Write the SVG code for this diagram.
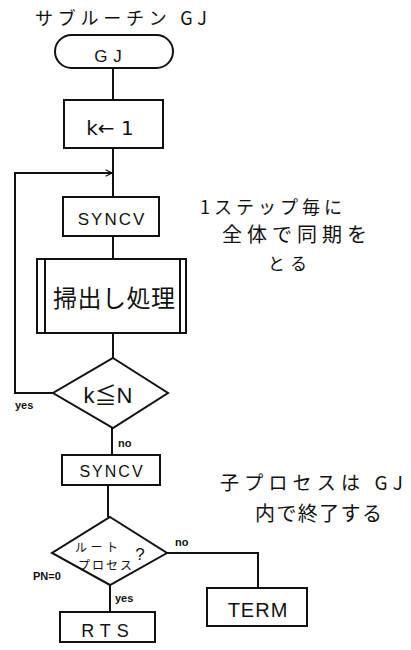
<svg xmlns="http://www.w3.org/2000/svg" width="411" height="650" viewBox="0 0 411 650">
<defs>
<style>
.s{fill:#fff;stroke:#111;stroke-width:2}
.l{fill:none;stroke:#111;stroke-width:2}
.t{font-family:"Liberation Sans","Noto Sans CJK JP",sans-serif;fill:#111;text-anchor:middle}
.j{font-family:"Noto Sans CJK JP","Liberation Sans",sans-serif;fill:#111}
.sm{font-family:"Liberation Sans",sans-serif;font-weight:bold;fill:#111;font-size:11px}
</style>
<marker id="arr" viewBox="0 0 10 10" refX="9" refY="5" markerWidth="8" markerHeight="8" orient="auto" markerUnits="userSpaceOnUse">
<path d="M1,1 L9,5 L1,9" fill="none" stroke="#111" stroke-width="1.5"/>
</marker>
</defs>
<rect width="411" height="650" fill="#fff"/>
<text class="j" x="35" y="25" font-size="18" textLength="172">サブルーチン  GJ</text>
<g id="connectors">
<path class="l" d="M113,68 V100"/>
<path class="l" d="M113,148 V197"/>
<path class="l" d="M113,236 V259"/>
<path class="l" d="M113,333 V358"/>
<path class="l" d="M112,428 V455"/>
<path class="l" d="M108,485 V517"/>
<path class="l" d="M110,585 V612"/>
<path class="l" d="M167,553 H258 V588"/>
<path class="l" d="M53,393 H15 V173 H112" marker-end="url(#arr)"/>
</g>
<g id="start">
<rect class="s" x="55" y="35" width="118" height="33" rx="16.5"/>
<text class="t" x="111" y="62" font-size="17" letter-spacing="6">GJ</text>
</g>
<g id="init">
<rect class="s" x="64" y="100" width="99" height="48"/>
<text class="t" x="110" y="135" style="font-family:'DejaVu Sans',sans-serif;font-size:20px">k← 1</text>
</g>
<g id="syncv1">
<rect class="s" x="63" y="197" width="96" height="39"/>
<text class="t" x="112" y="225" font-size="17" letter-spacing="2">SYNCV</text>
</g>
<g id="sweep">
<rect class="s" x="37" y="259" width="149" height="74"/>
<path class="l" d="M45,259 V333 M180,259 V333"/>
<text class="j" x="53" y="307" font-size="24" textLength="122">掃出し処理</text>
</g>
<g id="loopcond">
<path class="s" d="M113,358 L168,393 L113,428 L53,393 Z"/>
<text class="t" x="108" y="403" font-size="22">k≦N</text>
<text class="sm" x="15" y="409">yes</text>
<text class="sm" x="118" y="447">no</text>
</g>
<g id="syncv2">
<rect class="s" x="62" y="455" width="98" height="30"/>
<text class="t" x="112" y="477" font-size="16" letter-spacing="2">SYNCV</text>
</g>
<g id="rootcond">
<path class="s" d="M110,517 L167,553 L110,585 L52,553 Z"/>
<text class="j" x="75" y="552" font-size="12" textLength="43">ルート</text>
<text class="j" x="78" y="570" font-size="12" textLength="54">プロセス</text>
<text class="t" x="140" y="560" font-size="17">?</text>
<text class="sm" x="175" y="546">no</text>
<text class="sm" x="33" y="580">PN=0</text>
<text class="sm" x="115" y="602" font-size="13">yes</text>
</g>
<g id="term">
<rect class="s" x="207" y="588" width="100" height="38"/>
<text class="t" x="258" y="617" font-size="20" letter-spacing="1">TERM</text>
</g>
<g id="rts">
<rect class="s" x="60" y="612" width="95" height="30"/>
<text class="t" x="108" y="637" font-size="18" letter-spacing="6">RTS</text>
</g>
<g id="notes">
<text class="j" x="200" y="214" font-size="18" textLength="142">1ステップ毎に</text>
<text class="j" x="222" y="242" font-size="20" textLength="145">全体で同期を</text>
<text class="j" x="268" y="270" font-size="17" textLength="39">とる</text>
<text class="j" x="220" y="490" font-size="19" textLength="183">子プロセスは  GJ</text>
<text class="j" x="255" y="521" font-size="20" textLength="127">内で終了する</text>
</g>
</svg>
